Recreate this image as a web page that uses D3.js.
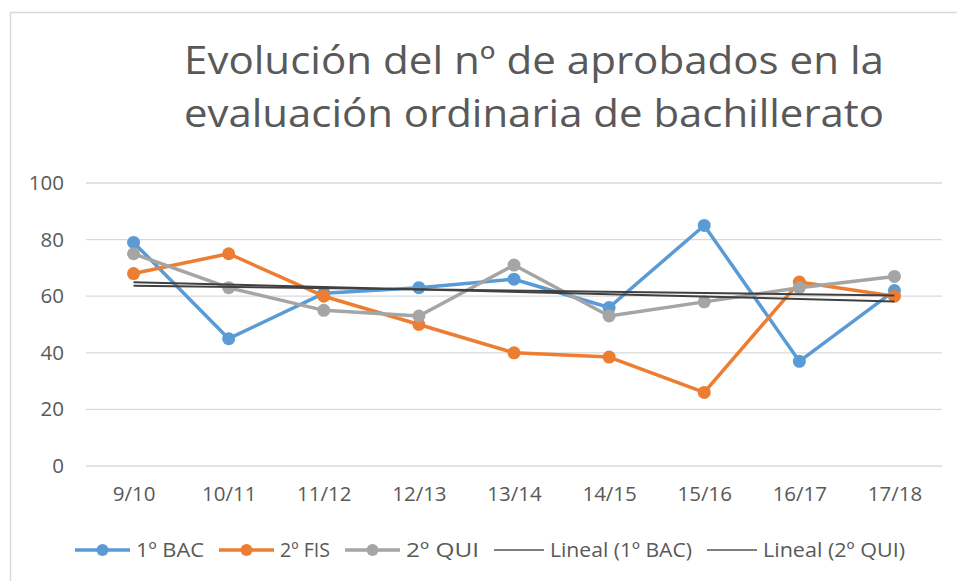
<!DOCTYPE html>
<html><head><meta charset="utf-8">
<script src="https://cdn.jsdelivr.net/npm/d3@7"></script>
<style>body{margin:0;background:#fff}svg{display:block}</style>
</head><body>
<script>
const categories = ["9/10","10/11","11/12","12/13","13/14","14/15","15/16","16/17","17/18"];
const bac1 = [79,45,61,63,66,56,85,37,62];
const fis2 = [68,75,60,50,40,38.5,26,65,60];
const qui2 = [75,63,55,53,71,53,58,63,67];
const yTicks = [0,20,40,60,80,100];
const titleLines = ["Evolución del nº de aprobados en la","evaluación ordinaria de bachillerato"];
const seriesNames = ["1º BAC","2º FIS","2º QUI"];
const trendNames = ["Lineal (1º BAC)","Lineal (2º QUI)"];

const W=957,H=581;
const colors=["#5b9bd5","#ed7d31","#a5a5a5"];
const trendColor="#404040";
const txt="#595959";
const font="'Open Sans', sans-serif";

const svg=d3.select("body").append("svg").attr("width",W).attr("height",H);
svg.append("rect").attr("x",10.5).attr("y",12.5).attr("width",980).attr("height",620)
  .attr("fill","#fff").attr("stroke","#d9d9d9").attr("stroke-width",1.5);

// title
const tg=svg.append("g");
titleLines.forEach((t,i)=>{
  const el=tg.append("text").attr("x",534).attr("y",[74,127][i]).attr("text-anchor","middle")
    .attr("font-family",font).attr("fill",txt).attr("font-size",38).text(t);
  const w=el.node().getComputedTextLength();
  el.attr("textLength",700).attr("lengthAdjust","spacingAndGlyphs");
});

const x=d3.scalePoint().domain(categories).range([86,942]).padding(0.5);
const y=d3.scaleLinear().domain([0,100]).range([466,183]);

// grid
svg.append("g").selectAll("line").data(yTicks).join("line")
  .attr("x1",86).attr("x2",942).attr("y1",d=>y(d)).attr("y2",d=>y(d))
  .attr("stroke","#d9d9d9").attr("stroke-width",1.3);

// y axis
const ya=svg.append("g").attr("transform","translate(86,0)")
  .call(d3.axisLeft(y).tickValues(yTicks).tickSize(0).tickPadding(22));
ya.select(".domain").remove();
ya.selectAll("text").attr("font-family",font).attr("font-size",20.5).attr("fill",txt);

// x axis
const xa=svg.append("g").attr("transform","translate(0,466)")
  .call(d3.axisBottom(x).tickSize(0).tickPadding(20));
xa.select(".domain").remove();
xa.selectAll("text").attr("font-family",font).attr("font-size",20.5).attr("fill",txt);

const line=d3.line().x((d,i)=>x(categories[i])).y(d=>y(d));
const all=[bac1,fis2,qui2];
all.forEach((s,k)=>{
  const g=svg.append("g");
  g.append("path").datum(s).attr("d",line).attr("fill","none").attr("stroke",colors[k])
    .attr("stroke-width",3.5).attr("stroke-linejoin","round");
  g.selectAll("circle").data(s).join("circle").attr("cx",(d,i)=>x(categories[i])).attr("cy",d=>y(d))
    .attr("r",6.5).attr("fill",colors[k]);
});

// linear trend lines
function trend(s){
  const xs=s.map((d,i)=>i+1);
  const mx=d3.mean(xs), my=d3.mean(s);
  const b=d3.sum(xs.map((xv,i)=>(xv-mx)*(s[i]-my)))/d3.sum(xs.map(xv=>(xv-mx)**2));
  const a=my-b*mx;
  return xs.map(xv=>a+b*xv);
}
[bac1,qui2].forEach(s=>{
  const t=trend(s);
  svg.append("line").attr("x1",x(categories[0])).attr("x2",x(categories[categories.length-1]))
    .attr("y1",y(t[0])).attr("y2",y(t[t.length-1])).attr("stroke",trendColor).attr("stroke-width",2);
});

// legend
const items=[
  {name:seriesNames[0],color:colors[0],marker:true,len:55,tw:68},
  {name:seriesNames[1],color:colors[1],marker:true,len:55,tw:50},
  {name:seriesNames[2],color:colors[2],marker:true,len:55,tw:73},
  {name:trendNames[0],color:"#7f7f7f",marker:false,len:50,tw:142},
  {name:trendNames[1],color:"#7f7f7f",marker:false,len:50,tw:142}
];
const lg=svg.append("g");
let cx=75; const ly=550;
items.forEach(it=>{
  lg.append("line").attr("x1",cx).attr("x2",cx+it.len).attr("y1",ly).attr("y2",ly)
    .attr("stroke",it.color).attr("stroke-width",it.marker?3.5:1.8);
  if(it.marker) lg.append("circle").attr("cx",cx+it.len/2).attr("cy",ly).attr("r",6).attr("fill",it.color);
  lg.append("text").attr("x",cx+it.len+6).attr("y",ly).attr("dy","0.35em")
    .attr("font-family",font).attr("font-size",20).attr("fill",txt)
    .attr("textLength",it.tw).attr("lengthAdjust","spacingAndGlyphs").text(it.name);
  cx=cx+it.len+6+it.tw+15;
});
</script>
</body></html>
